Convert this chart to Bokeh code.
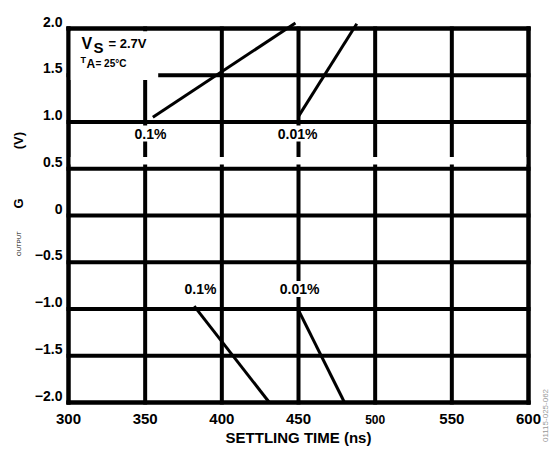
import math
from bokeh.plotting import figure
from bokeh.models import Label, Range1d
from bokeh.core.properties import value
from bokeh.embed import file_html
from bokeh.resources import INLINE

# ---- data ----
x_ticks = [300, 350, 400, 450, 500, 550, 600]
x_tick_labels = ["300", "350", "400", "450", "500", "550", "600"]
y_ticks = [-2.0, -1.5, -1.0, -0.5, 0.0, 0.5, 1.0, 1.5, 2.0]
y_tick_labels = ["\u22122.0", "\u22121.5", "\u22121.0", "\u22120.5", "0", "0.5", "1.0", "1.5", "2.0"]

# settling traces: time (ns) vs output (V)
pos_01_t = [355, 448]
pos_01_v = [1.05, 2.06]
pos_001_t = [450, 488]
pos_001_v = [1.06, 2.05]
neg_01_t = [382, 431]
neg_01_v = [-0.97, -2.0]
neg_001_t = [449, 480]
neg_001_v = [-0.98, -2.0]

FONT = "Liberation Sans"

# layout: whole canvas is the frame; plot box 300..600 ns, -2..2 V
W, H = 550, 446
PX_X = 460 / 300.0      # px per ns
PX_Y = 374 / 4.0        # px per V
LEFT_PAD, TOP_PAD = 68, 28
x0 = x_ticks[0] - LEFT_PAD / PX_X
x1 = x0 + W / PX_X
y1 = y_ticks[-1] + TOP_PAD / PX_Y
y0 = y1 - H / PX_Y

p = figure(width=W, height=H, x_range=Range1d(x0, x1), y_range=Range1d(y0, y1),
           output_backend="svg", toolbar_location=None,
           x_axis_location=None, y_axis_location=None, min_border=0)
p.outline_line_alpha = 0
p.background_fill_color = "white"
p.border_fill_color = "white"
p.xgrid.visible = False
p.ygrid.visible = False

ymin, ymax = y_ticks[0], y_ticks[-1]
xmin, xmax = x_ticks[0], x_ticks[-1]

# 1) inner grid, from tick arrays
p.segment(x0=x_ticks, y0=[ymin] * len(x_ticks), x1=x_ticks, y1=[ymax] * len(x_ticks),
          line_color="black", line_width=4, line_cap="square")
p.segment(x0=[xmin] * len(y_ticks), y0=y_ticks, x1=[xmax] * len(y_ticks), y1=y_ticks,
          line_color="black", line_width=4, line_cap="square")

# 2) white patches (gaps of the original) over the grid
p.quad(left=[xmin, xmin], right=[358.5, xmax], bottom=[1.45, 0.545], top=[1.97, 0.625],
       fill_color="white", fill_alpha=1, line_alpha=0)

# 3) outer frame over the white patches
p.segment(x0=[xmin, xmax, xmin, xmin], y0=[ymin, ymin, ymin, ymax],
          x1=[xmin, xmax, xmax, xmax], y1=[ymax, ymax, ymin, ymax],
          line_color="black", line_width=4, line_cap="square")

# tick labels
xl_t = [t for t, s in zip(x_ticks, x_tick_labels) if s != "500"]
xl_s = [s for s in x_tick_labels if s != "500"]
p.text(x=xl_t, y=[ymin] * len(xl_t), text=xl_s, y_offset=16,
       text_font=value(FONT), text_font_style="bold", text_font_size="15px",
       text_align="center", text_baseline="middle", text_color="black")
p.text(x=[500], y=[ymin], text=["500"], y_offset=17,
       text_font=value(FONT), text_font_style="bold", text_font_size="12px",
       text_align="center", text_baseline="middle", text_color="black")
p.text(x=[xmin] * len(y_ticks), y=y_ticks, text=y_tick_labels, x_offset=-6, y_offset=-7,
       text_font=value(FONT), text_font_style="bold", text_font_size="14px",
       text_align="right", text_baseline="middle", text_color="black")

# 4) settling traces
for t, v in ((pos_01_t, pos_01_v), (pos_001_t, pos_001_v), (neg_01_t, neg_01_v), (neg_001_t, neg_001_v)):
    p.line(t, v, line_color="black", line_width=3)

def lab(x, y, text, size, bold=True, align="left", angle=0.0, color="black", bg=None):
    kw = dict(x=x, y=y, text=text, text_font=FONT, text_font_size=size,
              text_font_style="bold" if bold else "normal", text_align=align,
              text_baseline="middle", angle=angle, text_color=color)
    if bg:
        kw["background_fill_color"] = bg
        kw["background_fill_alpha"] = 1
    p.add_layout(Label(**kw))

# conditions
lab(308.5, 1.84, "V", "16px")
lab(316.3, 1.797, "S", "15px")
lab(326.1, 1.84, "= 2.7V", "13px")
lab(307.8, 1.658, "T", "9px")
lab(311.7, 1.615, "A", "12px")
lab(317.6, 1.626, "= 25\u00b0C", "10px")

# accuracy annotations
lab(353.5, 0.877, "0.1%", "14px", align="center", bg="white")
lab(449.4, 0.877, "0.01%", "14px", align="center", bg="white")
lab(386.1, -0.786, "0.1%", "14px", align="center", bg="white")
lab(450.7, -0.786, "0.01%", "14px", align="center", bg="white")

# y-axis title pieces
lab(267.4, 0.80, "(V)", "13px", align="center", angle=math.pi / 2)
lab(267.4, 0.13, "G", "13px", align="center", angle=math.pi / 2)
lab(267.4, -0.30, "OUTPUT", "6px", bold=False, align="center", angle=math.pi / 2)

# x-axis title
lab(450, -2.374, "SETTLING TIME (ns)", "15px", align="center")

# figure id
lab(611.0, -2.139, "01115-025-062", "8px", bold=False, align="center", angle=math.pi / 2, color="#999999")

open("out.html", "w").write(file_html(p, INLINE))
